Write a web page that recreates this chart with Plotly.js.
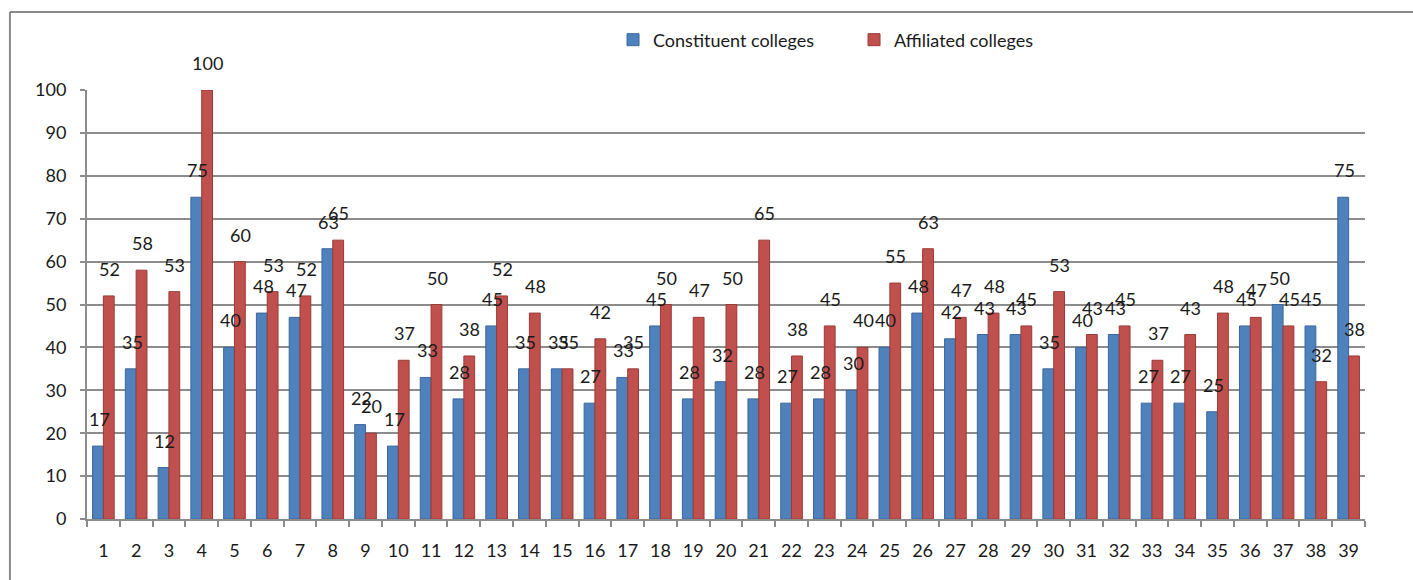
<!DOCTYPE html>
<html>
<head>
<meta charset="utf-8">
<script src="https://cdn.plot.ly/plotly-3.0.1.min.js"></script>
<style>
  html, body { margin: 0; padding: 0; background: #ffffff; }
  #chart { width: 1413px; height: 580px; }
</style>
</head>
<body>
<div id="chart"></div>
<script>
const categories = ['1','2','3','4','5','6','7','8','9','10','11','12','13','14','15','16','17','18','19','20','21','22','23','24','25','26','27','28','29','30','31','32','33','34','35','36','37','38','39'];
const constituent = [17,35,12,75,40,48,47,63,22,17,33,28,45,35,35,27,33,45,28,32,28,27,28,30,40,48,42,43,43,35,40,43,27,27,25,45,50,45,75];
const affiliated  = [52,58,53,100,60,53,52,65,20,37,50,38,52,48,35,42,35,50,47,50,65,38,45,40,55,63,47,48,45,53,43,45,37,43,48,47,45,32,38];
const yTicks = [0,10,20,30,40,50,60,70,80,90,100];
const seriesNames = ['Constituent colleges', 'Affiliated colleges'];

const FONT = 'Lato, "Open Sans", "Liberation Sans", sans-serif';
const BLUE = '#4F81BD', RED = '#C0504D';

const traces = [
  { type: 'bar', name: seriesNames[0], x: categories, y: constituent,
    marker: { color: BLUE, line: { color: '#3a679c', width: 1 } } },
  { type: 'bar', name: seriesNames[1], x: categories, y: affiliated,
    marker: { color: RED, line: { color: '#9a3a37', width: 1 } } }
];

const annotations = [];
categories.forEach((c, i) => {
  annotations.push({ x: i, y: constituent[i], text: String(constituent[i]), showarrow: false,
    xref: 'x', yref: 'y', yanchor: 'bottom', xanchor: 'center', xshift: -4, yshift: 14,
    font: { family: FONT, size: 18, color: '#1a1a1a' } });
  annotations.push({ x: i, y: affiliated[i], text: String(affiliated[i]), showarrow: false,
    xref: 'x', yref: 'y', yanchor: 'bottom', xanchor: 'center', xshift: 6, yshift: 14,
    font: { family: FONT, size: 18, color: '#1a1a1a' } });
});

const layout = {
  width: 1413, height: 580,
  margin: { l: 87, r: 48, t: 90, b: 61 },
  paper_bgcolor: '#ffffff', plot_bgcolor: '#ffffff',
  font: { family: FONT, size: 17, color: '#1a1a1a' },
  barmode: 'group', bargap: 0.34, bargroupgap: 0,
  showlegend: true,
  legend: { orientation: 'h', x: 0.4116, xanchor: 'left', y: 1.1166, yanchor: 'middle',
    font: { family: FONT, size: 18, color: '#1a1a1a' },
    entrywidth: 196, entrywidthmode: 'pixels', itemwidth: 30, bgcolor: 'rgba(0,0,0,0)' },
  xaxis: { type: 'category', range: [-0.5, 38.5], tickson: 'boundaries', ticks: 'outside',
    ticklen: 6, tickcolor: '#8c8c8c', tickwidth: 2, showline: true, linecolor: '#8c8c8c', linewidth: 2,
    showgrid: false, ticklabelstandoff: 14, tickfont: { family: FONT, size: 18, color: '#1a1a1a' } },
  yaxis: { range: [0, 100], tickvals: yTicks, ticktext: yTicks.map(String), ticks: 'outside',
    ticklen: 5, tickcolor: '#8c8c8c', tickwidth: 2, showline: true, linecolor: '#8c8c8c', linewidth: 2,
    showgrid: true, gridcolor: '#8c8c8c', gridwidth: 2, zeroline: false, ticklabelstandoff: 10,
    tickfont: { family: FONT, size: 18, color: '#1a1a1a' } },
  annotations: annotations,
  shapes: [
    { type: 'line', xref: 'paper', yref: 'paper', x0: -0.0603, x1: 1.05, y0: 1.1818, y1: 1.1818,
      line: { color: '#8a8a8a', width: 2 } },
    { type: 'line', xref: 'paper', yref: 'paper', x0: -0.0603, x1: -0.0603, y0: -0.2, y1: 1.1818,
      line: { color: '#8a8a8a', width: 2 } }
  ]
};

Plotly.newPlot('chart', traces, layout, { displayModeBar: false, staticPlot: true });
</script>
</body>
</html>
